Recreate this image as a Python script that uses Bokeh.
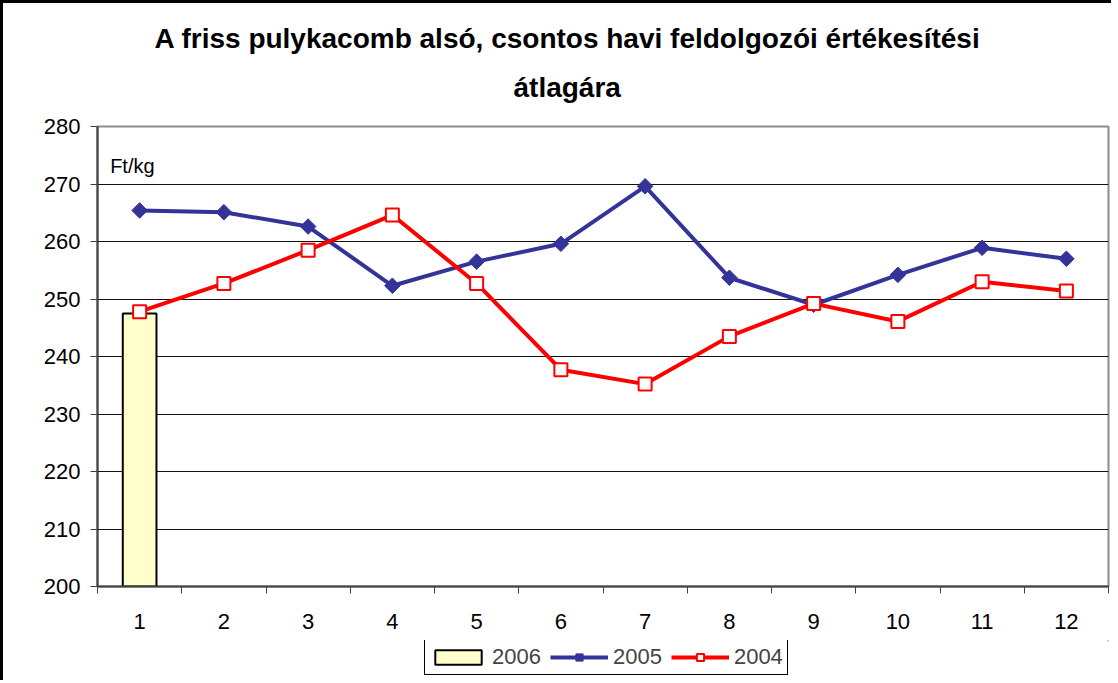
from bokeh.plotting import figure
from bokeh.layouts import column
from bokeh.models import (Range1d, FixedTicker, Legend, LegendItem, Title, Label)
from bokeh.embed import file_html
from bokeh.resources import INLINE
import math

# ---- data ----
months = [1, 2, 3, 4, 5, 6, 7, 8, 9, 10, 11, 12]
month_labels = ["1", "2", "3", "4", "5", "6", "7", "8", "9", "10", "11", "12"]
y_ticks = [200, 210, 220, 230, 240, 250, 260, 270, 280]

months_2006 = [1]
price_2006 = [247.5]
price_2005 = [265.4, 265.1, 262.6, 252.3, 256.5, 259.6, 269.6, 253.7, 249.0, 254.2, 258.9, 257.0]
price_2004 = [247.8, 252.7, 258.5, 264.6, 252.7, 237.7, 235.2, 243.5, 249.2, 246.1, 253.0, 251.4]

title_line1 = "A friss pulykacomb alsó, csontos havi feldolgozói értékesítési"
title_line2 = "átlagára"
unit_label = "Ft/kg"
series_names = ["2006", "2005", "2004"]

FONT = "Liberation Sans"
C05 = "#333399"
C04 = "#FF0000"
C06 = "#FFFFCC"

p = figure(frame_width=1011, frame_height=460, output_backend="svg", toolbar_location=None,
           x_range=Range1d(0.5, 12.5), y_range=Range1d(200, 280),
           min_border_left=94, min_border_right=3, min_border_top=123,
           min_border_bottom=54, title=None)

# titles (added bottom-most first)
t2 = Title(text=title_line2, align="left", text_font=FONT, text_font_size="28px",
           text_font_style="bold", text_color="black", offset=416, standoff=47)
t1 = Title(text=title_line1, align="left", text_font=FONT, text_font_size="28px",
           text_font_style="bold", text_color="black", offset=57, standoff=-15)
p.add_layout(t2, "above")
p.add_layout(t1, "above")

p.background_fill_color = "white"
p.border_fill_color = "white"
p.outline_line_color = "#8c8c8c"
p.outline_line_width = 2

# grid
p.xgrid.visible = False
p.ygrid.ticker = FixedTicker(ticks=y_ticks[1:-1])
p.ygrid.grid_line_color = "#111111"
p.ygrid.grid_line_width = 1

# y axis
p.yaxis.ticker = FixedTicker(ticks=y_ticks)
p.yaxis.major_label_text_font = FONT
p.yaxis.major_label_text_font_size = "22px"
p.yaxis.major_label_text_color = "black"
p.yaxis.major_tick_out = 7
p.yaxis.major_tick_in = 0
p.yaxis.minor_tick_out = 0
p.yaxis.minor_tick_in = 0
p.yaxis.major_label_standoff = 10
p.yaxis.axis_line_color = "#404040"
p.yaxis.axis_line_width = 2
p.yaxis.major_tick_line_color = "#404040"

# x axis: labels at centres, ticks between categories
p.xaxis.ticker = FixedTicker(ticks=months, minor_ticks=[m - 0.5 for m in months] + [months[-1] + 0.5])
p.xaxis.major_label_overrides = {m: lab for m, lab in zip(months, month_labels)}
p.xaxis.major_label_text_font = FONT
p.xaxis.major_label_text_font_size = "22px"
p.xaxis.major_label_text_color = "black"
p.xaxis.major_tick_out = 0
p.xaxis.major_tick_in = 0
p.xaxis.minor_tick_out = 7
p.xaxis.minor_tick_in = 0
p.xaxis.minor_tick_line_color = "#404040"
p.xaxis.major_label_standoff = 20
p.xaxis.axis_line_color = "#404040"
p.xaxis.axis_line_width = 2


def draw_series(fig):
    bar = fig.vbar(x=months_2006, top=price_2006, bottom=200, width=0.4,
                   fill_color=C06, line_color="black", line_width=2)
    l05 = fig.line(months, price_2005, line_color=C05, line_width=4)
    m05 = fig.scatter(months, price_2005, marker="square", size=11, angle=math.pi / 4,
                      fill_color=C05, line_color=C05, line_width=1)
    l04 = fig.line(months, price_2004, line_color=C04, line_width=4)
    m04 = fig.scatter(months, price_2004, marker="square", size=13,
                      fill_color="white", line_color=C04, line_width=2)
    return bar, (l05, m05), (l04, m04)


draw_series(p)

p.add_layout(Label(x=0.65, y=273.2, text=unit_label, text_font=FONT,
                   text_font_size="20px", text_color="black",
                   text_baseline="alphabetic"))

# legend strip below the chart (same glyph styles; data lie outside its view)
p2 = figure(frame_width=1011, frame_height=40, output_backend="svg", toolbar_location=None,
            x_range=Range1d(-100, -99), y_range=Range1d(0, 1),
            x_axis_type=None, y_axis_type=None,
            min_border_left=94, min_border_right=3, min_border_top=0,
            min_border_bottom=0, title=None)
p2.outline_line_color = None
p2.background_fill_color = "white"
p2.border_fill_color = "white"
lb, l5, l4 = draw_series(p2)

legend = Legend(items=[LegendItem(label=series_names[0], renderers=[lb]),
                       LegendItem(label=series_names[1], renderers=list(l5)),
                       LegendItem(label=series_names[2], renderers=list(l4))],
                orientation="horizontal", location=(327, 5),
                label_text_font=FONT, label_text_font_size="22px",
                glyph_width=58, glyph_height=18, label_standoff=5, spacing=9,
                padding=4, margin=0, border_line_color="black", border_line_width=1,
                border_line_alpha=1,
                background_fill_color="white", background_fill_alpha=1)
p2.add_layout(legend)

layout = column(p, p2, spacing=0)
layout.styles = {"border-left": "3px solid black", "border-top": "3px solid black",
                 "background-color": "white"}

open("out.html", "w").write(file_html(layout, INLINE))
